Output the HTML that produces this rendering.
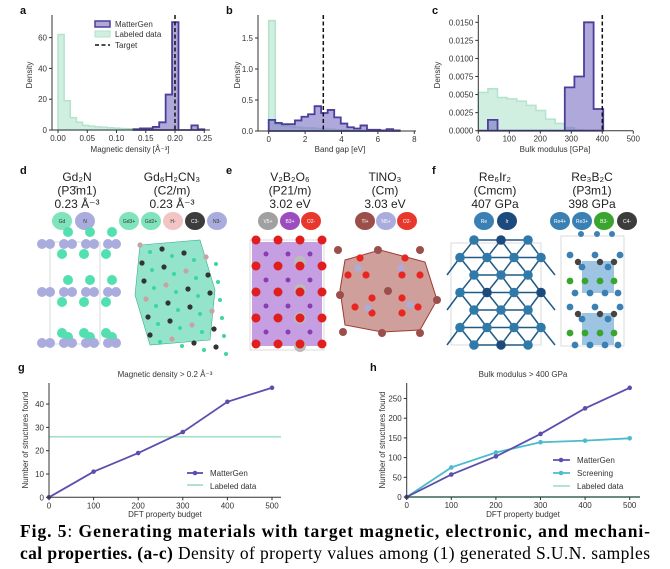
<!DOCTYPE html>
<html><head><meta charset="utf-8">
<style>
html,body{margin:0;padding:0;background:#fff;}
svg{display:block;font-family:"Liberation Sans","DejaVu Sans",sans-serif;}
.t{font-size:8px;fill:#333;}
.lbl{font-size:11px;font-weight:bold;fill:#111;}
.ttl{font-size:12px;fill:#222;text-anchor:middle;}
.bd{font-size:5px;text-anchor:middle;}
</style></head>
<body>
<svg id="fig" width="670" height="569" viewBox="0 0 670 569" xmlns="http://www.w3.org/2000/svg">
<g id="panels"></g>
<g id="structs"></g>
<text x="20" y="537" font-family="Liberation Serif, serif" font-size="17.5" textLength="630" lengthAdjust="spacing"><tspan font-weight="bold">Fig. 5</tspan>: <tspan font-weight="bold">Generating materials with target magnetic, electronic, and mechani-</tspan></text>
<text x="20" y="559" font-family="Liberation Serif, serif" font-size="17.5" textLength="630" lengthAdjust="spacing"><tspan font-weight="bold">cal properties. (a-c)</tspan> Density of property values among (1) generated S.U.N. samples</text>
</svg>
<script>
// ---- Panel a data ----
const aMgStart = 0.129, aMgWidth = 0.011;
const aMgHeights = [0.5, 1, 1, 2, 5, 23, 70, 0, 0, 3, 0.5];
const aLbStart = 0, aLbWidth = 0.0105;
const aLbHeights = [62, 19, 8, 5, 3, 2.5, 2, 1.8, 1.5, 1.2, 1, 0.8, 0.7, 0.5, 0.4, 0.3, 0.2, 0.1, 0.1];
const aTarget = 0.2;
const aXTicks = [0, 0.05, 0.10, 0.15, 0.20, 0.25];
const aXTickLabels = ["0.00","0.05","0.10","0.15","0.20","0.25"];
const aYTicks = [0, 20, 40, 60];
// ---- Panel b data ----
const bMgStart = 0, bMgWidth = 0.36;
const bMgHeights = [0.18,0.13,0.11,0.11,0.17,0.23,0.27,0.40,0.29,0.34,0.22,0.12,0.06,0.04,0.09,0.02,0.02,0.01,0.03,0.01];
const bLbStart = 0, bLbWidth = 0.36;
const bLbHeights = [1.78,0.1,0.08,0.07,0.06,0.05,0.05,0.04,0.03,0.03,0.02,0.02,0.01,0.01,0.01];
const bTarget = 3.0;
const bXTicks = [0, 2, 4, 6, 8];
const bYTicks = [0, 0.5, 1.0, 1.5];
const bYTickLabels = ["0.0","0.5","1.0","1.5"];
// ---- Panel c data ----
const cMgStart = 0, cMgWidth = 31;
const cMgHeights = [0, 0.0015, 0, 0, 0, 0, 0, 0, 0, 0.006, 0.0075, 0.015, 0.003];
const cLbStart = 0, cLbWidth = 31;
const cLbHeights = [0.0053,0.0058,0.0046,0.0044,0.0041,0.0035,0.0028,0.0016,0.001,0.0004,0.0001];
const cTarget = 400;
const cXTicks = [0, 100, 200, 300, 400, 500];
const cYTicks = [0, 0.0025, 0.005, 0.0075, 0.01, 0.0125, 0.015];
const cYTickLabels = ["0.0000","0.0025","0.0050","0.0075","0.0100","0.0125","0.0150"];
// ---- Panel g data ----
const budget = [0, 100, 200, 300, 400, 500];
const gMatterGen = [0, 11, 19, 28, 41, 47];
const gLabeled = 26;
const gYTicks = [0, 10, 20, 30, 40];
// ---- Panel h data ----
const hMatterGen = [0, 57, 103, 160, 225, 277];
const hScreening = [0, 75, 113, 139, 143, 149];
const hLabeled = 0;
const hYTicks = [0, 50, 100, 150, 200, 250];

const NS = "http://www.w3.org/2000/svg";
const root = document.getElementById('panels');
function mk(tag, attrs, parent, txt){
  const e = document.createElementNS(NS, tag);
  for (const k in attrs) e.setAttribute(k, attrs[k]);
  if (txt !== undefined) e.textContent = txt;
  (parent || root).appendChild(e);
  return e;
}
function histPath(start, w, h, X, Y){
  let d = "M" + X(start) + "," + Y(0);
  h.forEach((v,i)=>{ const x0=X(start+i*w), x1=X(start+(i+1)*w); d += " L"+x0+","+Y(v)+" L"+x1+","+Y(v); });
  d += " L" + X(start+h.length*w) + "," + Y(0) + " Z";
  return d;
}
function axes(g, x0, x1, yTop, yBase){
  mk('line',{x1:x0,y1:yTop,x2:x0,y2:yBase,stroke:'#333','stroke-width':1},g);
  mk('line',{x1:x0,y1:yBase,x2:x1,y2:yBase,stroke:'#333','stroke-width':1},g);
}
function xticks(g, ticks, labels, X, yBase){
  ticks.forEach((t,i)=>{
    mk('line',{x1:X(t),y1:yBase,x2:X(t),y2:yBase+3,stroke:'#333'},g);
    const e = mk('text',{x:X(t),y:yBase+11,'text-anchor':'middle',class:'t'},g,labels[i]);
    
    
  });
}
function yticks(g, ticks, labels, Y, xAxis){
  ticks.forEach((t,i)=>{
    mk('line',{x1:xAxis-3,y1:Y(t),x2:xAxis,y2:Y(t),stroke:'#333'},g);
    const e = mk('text',{x:xAxis-5,y:Y(t)+3,'text-anchor':'end',class:'t'},g,labels[i]);
    
    
  });
}
function label(x,y,s){ const e=mk('text',{x:x,y:y,class:'lbl'},root,s);   }
function ylab(g,x,y,s){ const e=mk('text',{x:x,y:y,transform:'rotate(-90 '+x+' '+y+')','text-anchor':'middle',class:'t','font-size':'8.5'},g,s);   }
function xlab(g,x,y,s){ const e=mk('text',{x:x,y:y,'text-anchor':'middle',class:'t','font-size':'8.5'},g,s);   }
const PUR='#4b3f9b', PURF='rgba(120,110,195,0.6)', GRF='rgba(170,225,200,0.55)', GRS='#b2e3cd';

function histPanel(name, X, Y, x0, x1, mg, lb, target, xt, xtl, yt, ytl){
  const g = mk('g',{});
  
  
  const p1 = mk('path',{d:histPath(lb[0],lb[1],lb[2],X,Y),fill:GRF,stroke:GRS,'stroke-width':1.5},g);
  
  
  const p2 = mk('path',{d:histPath(mg[0],mg[1],mg[2],X,Y),fill:PURF,stroke:PUR,'stroke-width':1.8},g);
  
  
  const tl = mk('line',{x1:X(target),y1:15,x2:X(target),y2:Y(0),stroke:'#111','stroke-width':1.5,'stroke-dasharray':'4,2.5'},g);
  
  
  axes(g,x0,x1,15,Y(0));
  xticks(g,xt,xtl,X,Y(0));
  yticks(g,yt,ytl,Y,x0);
  return g;
}
// Panel a
const xa=v=>58+v*585, ya=v=>130-v*1.54;
const ga = histPanel('panel-a-magnetic-density', xa, ya, 52, 210, [aMgStart,aMgWidth,aMgHeights],[aLbStart,aLbWidth,aLbHeights], aTarget, aXTicks, aXTickLabels, aYTicks, aYTicks.map(String));
ylab(ga,32,75,'Density'); xlab(ga,130,152,'Magnetic density [Å⁻³]');
mk('rect',{x:95,y:21,width:15,height:6,fill:PURF,stroke:PUR,'stroke-width':1.5},ga);
mk('text',{x:115,y:27,class:'t','font-size':'8.5'},ga,'MatterGen');
mk('rect',{x:95,y:31,width:15,height:6,fill:GRF,stroke:GRS,'stroke-width':1},ga);
mk('text',{x:115,y:37,class:'t','font-size':'8.5'},ga,'Labeled data');
mk('line',{x1:95,y1:45,x2:110,y2:45,stroke:'#111','stroke-width':1.5,'stroke-dasharray':'4,2.5'},ga);
mk('text',{x:115,y:48,class:'t','font-size':'8.5'},ga,'Target');
label(20,14,'a');
// Panel b
const xb=v=>268.7+v*18.2, yb=v=>131-v*62;
const gb = histPanel('panel-b-band-gap', xb, yb, 258, 416, [bMgStart,bMgWidth,bMgHeights],[bLbStart,bLbWidth,bLbHeights], bTarget, bXTicks, bXTicks.map(String), bYTicks, bYTickLabels);
ylab(gb,240,75,'Density'); xlab(gb,340,152,'Band gap [eV]');
label(226,14,'b');
// Panel c
const xc=v=>478.3+v*0.31, yc=v=>130.7-v*7227;
const gc = histPanel('panel-c-bulk-modulus', xc, yc, 478.3, 633, [cMgStart,cMgWidth,cMgHeights],[cLbStart,cLbWidth,cLbHeights], cTarget, cXTicks, cXTicks.map(String), cYTicks, cYTickLabels);
ylab(gc,440,75,'Density'); xlab(gc,555,152,'Bulk modulus [GPa]');
label(432,14,'c');

// Panel g
const xg=v=>49+v*0.446, yg=v=>497.3-v*2.33;
const gg = mk('g',{});  
const gl = mk('line',{x1:49,y1:yg(gLabeled),x2:281,y2:yg(gLabeled),stroke:'#a8e0c8','stroke-width':1.8},gg);
 
const gp = mk('polyline',{points:budget.map((b,i)=>xg(b)+','+yg(gMatterGen[i])).join(' '),fill:'none',stroke:'#5b4fae','stroke-width':1.8},gg);
 
budget.forEach((b,i)=>{ const c=mk('circle',{cx:xg(b),cy:yg(gMatterGen[i]),r:2.3,fill:'#5b4fae'},gg);   });
axes(gg,49,281,383,497.3);
xticks(gg,budget,budget.map(String),xg,497.3);
yticks(gg,gYTicks,gYTicks.map(String),yg,49);
ylab(gg,28,440,'Number of structures found'); xlab(gg,165,517,'DFT property budget');
mk('text',{x:165,y:377,'text-anchor':'middle',class:'t'},gg,'Magnetic density  > 0.2 Å⁻³');
mk('line',{x1:187,y1:473,x2:203,y2:473,stroke:'#5b4fae','stroke-width':1.8},gg);
mk('circle',{cx:195,cy:473,r:2.3,fill:'#5b4fae'},gg);
mk('text',{x:210,y:476,class:'t','font-size':'8.5'},gg,'MatterGen');
mk('line',{x1:187,y1:485,x2:203,y2:485,stroke:'#a8e0c8','stroke-width':1.8},gg);
mk('text',{x:210,y:489,class:'t','font-size':'8.5'},gg,'Labeled data');
label(18,371,'g');

// Panel h
const xh=v=>406.7+v*0.446, yh=v=>497-v*0.394;
const gh = mk('g',{});  
const hl = mk('line',{x1:406.7,y1:yh(hLabeled),x2:640,y2:yh(hLabeled),stroke:'#a8e0c8','stroke-width':2},gh);
 
const hs = mk('polyline',{points:budget.map((b,i)=>xh(b)+','+yh(hScreening[i])).join(' '),fill:'none',stroke:'#4cbccc','stroke-width':1.8},gh);
 
budget.forEach((b,i)=>{ const c=mk('circle',{cx:xh(b),cy:yh(hScreening[i]),r:2.3,fill:'#4cbccc'},gh);   });
const hm = mk('polyline',{points:budget.map((b,i)=>xh(b)+','+yh(hMatterGen[i])).join(' '),fill:'none',stroke:'#5b4fae','stroke-width':1.8},gh);
 
budget.forEach((b,i)=>{ const c=mk('circle',{cx:xh(b),cy:yh(hMatterGen[i]),r:2.3,fill:'#5b4fae'},gh);   });
axes(gh,406.7,640,383,497);
xticks(gh,budget,budget.map(String),xh,497);
yticks(gh,hYTicks,hYTicks.map(String),yh,406.7);
ylab(gh,385,440,'Number of structures found'); xlab(gh,523,517,'DFT property budget');
mk('text',{x:523,y:377,'text-anchor':'middle',class:'t'},gh,'Bulk modulus > 400 GPa');
[['MatterGen','#5b4fae',460],['Screening','#4cbccc',473],['Labeled data','#a8e0c8',486]].forEach(r=>{
  mk('line',{x1:553,y1:r[2],x2:570,y2:r[2],stroke:r[1],'stroke-width':1.8},gh);
  if (r[0]!=='Labeled data') mk('circle',{cx:561,cy:r[2],r:2.3,fill:r[1]},gh);
  mk('text',{x:577,y:r[2]+3,class:'t','font-size':'8.5'},gh,r[0]);
});
label(370,371,'h');

// ---- Structures (decorative) ----
const S = document.getElementById('structs');
function sm(tag,a,p){ return mk(tag,a,p||S); }
label(20,174,'d'); label(226,174,'e'); label(432,174,'f');
const titles = [
 [77,['Gd₂N','(P3̄m1)','0.23 Å⁻³']],
 [172,['Gd₆H₂CN₃','(C2/m)','0.23 Å⁻³']],
 [290,['V₂B₂O₆','(P21/m)','3.02 eV']],
 [385,['TlNO₃','(Cm)','3.03 eV']],
 [495,['Re₆Ir₂','(Cmcm)','407 GPa']],
 [592,['Re₃B₂C','(P3m1)','398 GPa']]];
titles.forEach(t=>{ t[1].forEach((s,i)=>{ const e=sm('text',{x:t[0],y:181+i*13.5,class:'ttl'}); e.textContent=s;   }); });
const badges = [
 [62,'Gd','#7fe3bc','#333'],[85,'N','#a9acdc','#333'],
 [129,'Gd3+','#7fe3bc','#333'],[151,'Gd2+','#7fe3bc','#333'],[173,'H-','#f2c4c4','#333'],[195,'C3-','#3c3c3c','#fff'],[217,'N3-','#a9acdc','#333'],
 [268,'V5+','#a0a0a0','#fff'],[290,'B3+','#9b4dc0','#fff'],[311,'O2-','#e8382c','#fff'],
 [365,'Tl+','#9c4f4a','#fff'],[386,'N5+','#a9acdc','#fff'],[407,'O2-','#e8382c','#fff'],
 [484,'Re','#3b80b4','#fff'],[507,'Ir','#1c4a7c','#fff'],
 [560,'Re4+','#3b80b4','#fff'],[582,'Re3+','#3b80b4','#fff'],[604,'B3-','#3aa52e','#fff'],[627,'C4-','#3c3c3c','#fff']];
badges.forEach(b=>{ const g=sm('g',{});  
  mk('ellipse',{cx:b[0],cy:221,rx:10,ry:9,fill:b[2]},g); const t=mk('text',{x:b[0],y:223,class:'bd',fill:b[3]},g); t.textContent=b[1]; });
// d1 Gd2N
sm('rect',{x:50,y:242,width:50,height:102,fill:'none',stroke:'#ccc','stroke-width':0.7});
[244,292,343].forEach((y,k)=>{ for(let i=0;i<4;i++){ sm('circle',{cx:42+i*22,cy:y,r:5,fill:'#a9acdc'}); sm('circle',{cx:50+i*22,cy:y,r:5,fill:'#a9acdc'}); if(i<3){ sm('circle',{cx:62+i*22,cy:y+(k===2?-10:10),r:5,fill:'#52e0b0'}); sm('circle',{cx:68+i*22,cy:y+(k===2?-6:-12),r:5,fill:'#52e0b0'}); } } });
// d2
sm('polygon',{points:'140,245 200,240 215,290 210,340 150,345 135,295',fill:'rgba(60,205,160,0.55)',stroke:'#3cae8c','stroke-width':0.6});
for(let r=0;r<6;r++) for(let c=0;c<4;c++){ sm('circle',{cx:140+c*22+r*2,cy:245+r*18+c*4,r:2.6,fill:(r+c)%3===0?'#c9a3a3':'#333'}); sm('circle',{cx:150+c*22+r*2,cy:252+r*18+c*4,r:2,fill:'#3cd6a0'}); }
// e1
sm('rect',{x:250,y:240,width:74,height:110,fill:'none',stroke:'#ccc','stroke-width':0.7});
sm('rect',{x:252,y:242,width:70,height:104,fill:'rgba(150,80,200,0.55)'});
for(let r=0;r<4;r++){ sm('circle',{cx:300,cy:262+r*28,r:6,fill:'#bbb'}); }
for(let r=0;r<5;r++) for(let c=0;c<4;c++) sm('circle',{cx:256+c*22,cy:240+r*26,r:4.5,fill:'#e01e1e'});
for(let r=0;r<4;r++) for(let c=0;c<3;c++) sm('circle',{cx:266+c*22,cy:254+r*26,r:2.5,fill:'#8a3db3'});
// e2
sm('polygon',{points:'345,260 380,250 425,262 437,300 420,330 382,332 345,325 340,290',fill:'rgba(175,95,90,0.6)',stroke:'#a03a30','stroke-width':1});
[[338,250],[378,250],[420,250],[437,300],[420,333],[382,333],[343,332],[340,295],[388,291]].forEach(p=>sm('circle',{cx:p[0],cy:p[1],r:4,fill:'#9c4f4a'}));
[[360,258],[405,258],[348,275],[366,275],[402,275],[420,275],[372,298],[402,298],[355,307],[372,313],[402,313],[418,307]].forEach(p=>sm('circle',{cx:p[0],cy:p[1],r:3.6,fill:'#e8251e'}));
[[358,268],[401,268],[368,308],[410,305]].forEach(p=>sm('circle',{cx:p[0],cy:p[1],r:3.5,fill:'#a9acdc'}));
// f1
sm('rect',{x:451,y:243,width:90,height:102,fill:'none',stroke:'#ccc','stroke-width':0.7});
for(let r=0;r<7;r++){ const y=240+r*17.5; const off=(r%2)?0:14; for(let c=0;c<4;c++){ const x=460+off+c*27; if(x>545) continue;
  if(c<3 && x+27<=545) sm('line',{x1:x,y1:y,x2:x+27,y2:y,stroke:'#1f5a86','stroke-width':1.5});
  if(r<6){ sm('line',{x1:x,y1:y,x2:x+((r%2)?14:-14),y2:y+17.5,stroke:'#1f5a86','stroke-width':1.5}); sm('line',{x1:x,y1:y,x2:x+((r%2)?-13:13),y2:y+17.5,stroke:'#1f5a86','stroke-width':1.5}); }
  sm('circle',{cx:x,cy:y,r:4.8,fill:(r===0||r===3||r===6)&&c%2?'#1c4a7c':'#2f7aa8'}); } }
// f2
sm('rect',{x:561,y:236,width:63,height:110,fill:'none',stroke:'#ccc','stroke-width':0.7});
[0,1].forEach(k=>{ const y0=255+k*52; sm('rect',{x:582,y:y0+6,width:32,height:32,fill:'rgba(60,140,200,0.5)'});
  [[570,y0],[582,y0+12],[595,y0],[608,y0+12],[620,y0]].forEach(p=>sm('circle',{cx:p[0],cy:p[1],r:3.4,fill:'#3b80b4'}));
  [[578,y0+7],[600,y0+7],[614,y0+7]].forEach(p=>sm('circle',{cx:p[0],cy:p[1],r:3.2,fill:'#444'}));
  [[570,y0+26],[585,y0+26],[600,y0+26],[614,y0+26]].forEach(p=>sm('circle',{cx:p[0],cy:p[1],r:3.4,fill:'#3aa52e'}));
  [[575,y0+38],[590,y0+38],[605,y0+38],[618,y0+38]].forEach(p=>sm('circle',{cx:p[0],cy:p[1],r:3.4,fill:'#3b80b4'})); });
[581,597,612].forEach(x=>sm('circle',{cx:x,cy:234,r:3,fill:'#3b80b4'}));
</script>
</body></html>
